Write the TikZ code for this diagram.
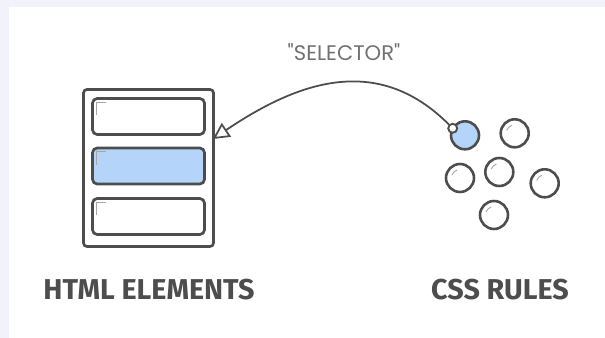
\documentclass[tikz,border=0pt]{standalone}
\usepackage{fontspec}
\setmainfont{Fira Sans}
\newfontfamily\selfont{Poppins}
\usetikzlibrary{arrows.meta,calc,positioning}
\definecolor{ink}{HTML}{4D4D4D}
\definecolor{selblue}{HTML}{B5D4FA}
\definecolor{lav}{HTML}{F2F2FD}
\tikzset{elem/.style={draw=ink,line width=2.3pt,rounded corners=4pt,minimum width=3.36cm,
    minimum height=1.08cm,inner sep=0pt,fill=white},
  rule/.style={circle,draw=ink,line width=2.2pt,minimum size=0.84cm,inner sep=0pt,fill=white},
  glint/.style={gray!70,line width=0.8pt},
  link/.style={draw=ink,line width=1.5pt,-{Triangle[fill=white,length=14pt,width=14pt]}},
  heading/.style={font=\bfseries\fontsize{24.5}{27}\selectfont,text=ink,anchor=base}}

\begin{document}
\begin{tikzpicture}[x=0.03cm,y=0.03cm]
% page and white card
\fill[lav] (0,0) rectangle (605,338);
\fill[white] (9,0) rectangle (605,331);
% html elements: frame with three rows
\node[elem,minimum width=3.9cm,minimum height=4.71cm,rounded corners=3pt] (html) at (148.5,170) {};
\node[elem] (el1) at (148.5,221.5) {};
\node[elem,fill=selblue] (el2) at (148.5,172) {};
\node[elem] (el3) at (148.5,121.5) {};
\foreach \e in {el1,el2,el3}{
  \draw[glint] ($(\e.north west)+(5,-18)$) |- ++(10,13);
}
% css rules
\node[rule,fill=selblue] (r1) at (465,202.7) {};
\node[rule] (r2) at (514.7,204.7) {};
\node[rule] (r3) at (460,160) {};
\node[rule] (r4) at (499.3,166) {};
\node[rule] (r5) at (544.7,154.7) {};
\node[rule] (r6) at (494,123) {};
\foreach \r in {r2,r3,r4,r5,r6}{
  \draw[glint] ($(\r)+(160:8.5)$) arc[start angle=160,end angle=110,radius=8.5];
}
\node[circle,draw=ink,line width=1.6pt,fill=white,minimum size=0.27cm,inner sep=0pt] (pick) at (452.7,209.7) {};
% selector arc
\coordinate (tip) at ($(html.east)+(-2,29)$);
\draw[link] (pick) to[out=135,in=34,looseness=1.1] (tip);
\node[font=\selfont\fontsize{18}{21}\selectfont,text=ink!80] (sel) at (344,286) {"SELECTOR"};
% captions
\node[heading] (lhtml) at (149,38) {HTML ELEMENTS};
\node[heading] (lcss) at (500,38) {CSS RULES};
\end{tikzpicture}
\end{document}
